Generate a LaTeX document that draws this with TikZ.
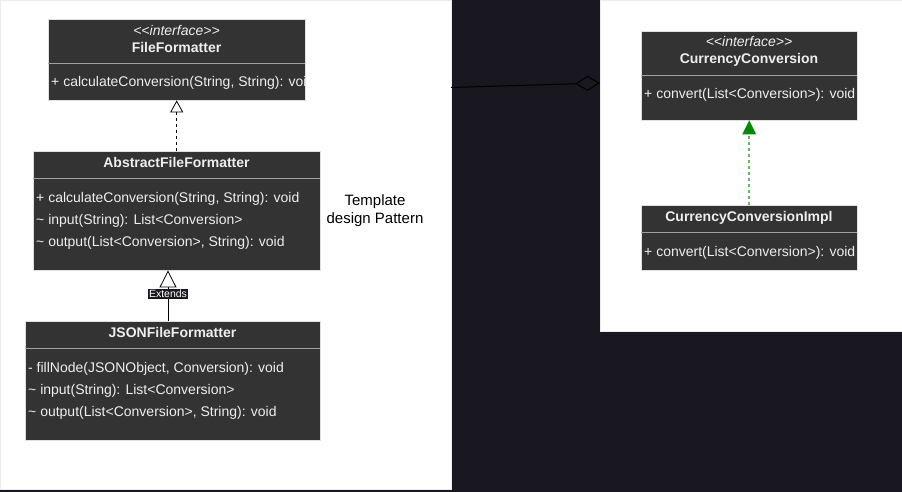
\documentclass[tikz,border=0pt]{standalone}
\usepackage{fontspec}
\setmainfont{Liberation Sans}
\usetikzlibrary{arrows.meta,shapes.geometric}
\definecolor{bgdark}{HTML}{19171F}
\definecolor{boxfill}{HTML}{333333}
\definecolor{boxtext}{HTML}{EEEEEE}
\definecolor{sepline}{HTML}{A0A0A0}
\definecolor{greentip}{HTML}{008A00}
\definecolor{greenline}{HTML}{5FB85F}
\tikzset{
  umlbox/.style={rectangle, fill=boxfill, draw=white!88!black, line width=0.4pt, inner sep=0pt, anchor=north west},
  sepstyle/.style={draw=sepline, line width=0.8pt},
  mtext/.style={anchor=base west, inner sep=0pt, text=boxtext, font=\fontsize{14}{16}\selectfont},
  ttext/.style={anchor=base, inner sep=0pt, text=boxtext, font=\fontsize{14}{16}\selectfont\bfseries},
  itext/.style={anchor=base, inner sep=0pt, text=boxtext, font=\fontsize{14}{16}\selectfont\itshape},
  panel/.style={rectangle, fill=white, draw=white!92!black, line width=0.5pt, inner sep=0pt, anchor=north west},
}
\begin{document}
\begin{tikzpicture}[x=1pt,y=-1pt]
\fill[bgdark] (0,0) rectangle (902,492);
\useasboundingbox (0,0) rectangle (902,492);
% panels
\node[panel, minimum width=451pt, minimum height=489pt] (lp) at (0,0) {};
\node[panel, minimum width=301.5pt, minimum height=330.5pt] (rp) at (600,0) {};

% FileFormatter
\node[umlbox, minimum width=257pt, minimum height=81pt] (ff) at (48,19) {};
\draw[sepstyle] (48,63) -- (305,63);
\node[itext] (ffs) at (176.5,36) {{<}{<}interface{>}{>}};
\node[ttext] (fft) at (176.5,52.5) {FileFormatter};
\begin{scope}
\clip (ff.south west) rectangle (ff.north east);
\node[mtext] (ffm) at (51,87) {+ calculateConversion(String, String): void};
\end{scope}

% AbstractFileFormatter
\node[umlbox, minimum width=287pt, minimum height=119pt] (aff) at (33,151) {};
\draw[sepstyle] (33,178.3) -- (320,178.3);
\node[ttext] (afft) at (176.5,167.5) {AbstractFileFormatter};
\node[mtext] (affm1) at (36,202.5) {+ calculateConversion(String, String): void};
\node[mtext] (affm2) at (36,224) {\textasciitilde{} input(String): List{<}Conversion{>}};
\node[mtext] (affm3) at (36,246.5) {\textasciitilde{} output(List{<}Conversion{>}, String): void};

% JSONFileFormatter
\node[umlbox, minimum width=295pt, minimum height=119pt] (json) at (25,321) {};
\draw[sepstyle] (25,348.3) -- (320,348.3);
\node[ttext] (jsont) at (172.5,337.5) {JSONFileFormatter};
\node[mtext] (jsonm1) at (28,372.5) {- fillNode(JSONObject, Conversion): void};
\node[mtext] (jsonm2) at (28,394) {\textasciitilde{} input(String): List{<}Conversion{>}};
\node[mtext] (jsonm3) at (28,416.5) {\textasciitilde{} output(List{<}Conversion{>}, String): void};

% Template text
\node[align=center, inner sep=0pt, font=\fontsize{15}{18}\selectfont, text=black] (tpl) at (375,211) {Template\\design Pattern};

% CurrencyConversion
\node[umlbox, minimum width=216pt, minimum height=89pt] (cc) at (641,31) {};
\draw[sepstyle] (641,75.7) -- (857,75.7);
\node[itext] (ccs) at (749,47) {{<}{<}interface{>}{>}};
\node[ttext] (cct) at (749,64) {CurrencyConversion};
\node[mtext] (ccm) at (644,99) {+ convert(List{<}Conversion{>}): void};

% CurrencyConversionImpl
\node[umlbox, minimum width=216pt, minimum height=65pt] (cci) at (641,205) {};
\draw[sepstyle] (641,232.3) -- (857,232.3);
\node[ttext] (ccit) at (749,221) {CurrencyConversionImpl};
\node[mtext] (ccim) at (644,256) {+ convert(List{<}Conversion{>}): void};

% connectors
\draw[black, line width=0.8pt, dash pattern=on 3pt off 3pt,
  -{Triangle[open, length=12pt, width=13pt, fill=white, line width=0.8pt]}]
  (aff.north -| ff.south) -- (ff.south);

\coordinate (ex) at (168,0);
\draw[black, line width=0.8pt,
  -{Triangle[open, length=17pt, width=17pt, fill=white, line width=0.8pt]}]
  (json.north -| ex) -- (aff.south -| ex);
\node[fill=bgdark, text=white, inner sep=1pt, font=\fontsize{10.5}{12}\selectfont] (extl) at (168,294) {Extends};

\draw[greenline, line width=2pt, dash pattern=on 3pt off 3pt,
  -{Triangle[length=14pt, width=14pt, fill=greentip, color=greentip, line width=0pt]}]
  (cci.north) -- (cc.south);

\coordinate (agg1) at (451,87.5);
\coordinate (agg2) at (600,83);
\draw[black, line width=1pt, -{Diamond[open, length=25pt, width=15pt, line width=1pt]}]
  (agg1) -- (agg2);
\end{tikzpicture}
\end{document}
